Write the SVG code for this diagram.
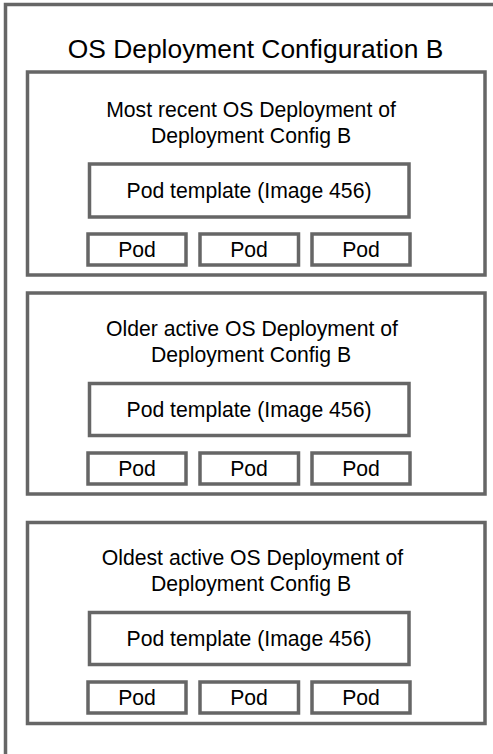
<svg xmlns="http://www.w3.org/2000/svg" width="493" height="754" viewBox="0 0 493 754">
<style>
.box{fill:#fff;stroke:#666;stroke-width:3.5}
.t{font-family:"Liberation Sans",Arial,sans-serif;fill:#000;text-anchor:middle}
.title{font-size:26.4px}
.lbl{font-size:21.2px}
</style>
<rect width="493" height="754" fill="#fff"/>
<g id="config">
<rect class="box" x="5.5" y="4.5" width="510" height="780"/>
<text class="t title" x="255.5" y="58">OS Deployment Configuration B</text>
</g>
<g id="deploy1">
<rect class="box" x="27.5" y="72" width="457.5" height="203"/>
<text class="t lbl" x="251" y="117">Most recent OS Deployment of</text>
<text class="t lbl" x="251" y="142.5">Deployment Config B</text>
</g>
<g id="template1"><rect class="box" x="89.5" y="164" width="319.5" height="53"/><text class="t lbl" x="249" y="198">Pod template (Image 456)</text></g>
<g id="pod1a"><rect class="box" x="88" y="234" width="98" height="31"/><text class="t lbl" x="137" y="257">Pod</text></g>
<g id="pod1b"><rect class="box" x="200" y="234" width="98.5" height="31"/><text class="t lbl" x="249" y="257">Pod</text></g>
<g id="pod1c"><rect class="box" x="312" y="234" width="98" height="31"/><text class="t lbl" x="361" y="257">Pod</text></g>
<g id="deploy2">
<rect class="box" x="27.5" y="293" width="457.5" height="201"/>
<text class="t lbl" x="252" y="336">Older active OS Deployment of</text>
<text class="t lbl" x="251" y="361.5">Deployment Config B</text>
</g>
<g id="template2"><rect class="box" x="89.5" y="383.5" width="319.5" height="52"/><text class="t lbl" x="249" y="417">Pod template (Image 456)</text></g>
<g id="pod2a"><rect class="box" x="88" y="453" width="98" height="31"/><text class="t lbl" x="137" y="476">Pod</text></g>
<g id="pod2b"><rect class="box" x="200" y="453" width="98.5" height="31"/><text class="t lbl" x="249" y="476">Pod</text></g>
<g id="pod2c"><rect class="box" x="312" y="453" width="98" height="31"/><text class="t lbl" x="361" y="476">Pod</text></g>
<g id="deploy3">
<rect class="box" x="27.5" y="522.5" width="457.5" height="201"/>
<text class="t lbl" x="252.5" y="565">Oldest active OS Deployment of</text>
<text class="t lbl" x="251" y="590.5">Deployment Config B</text>
</g>
<g id="template3"><rect class="box" x="89.5" y="612.5" width="319.5" height="52"/><text class="t lbl" x="249" y="646">Pod template (Image 456)</text></g>
<g id="pod3a"><rect class="box" x="88" y="682" width="98" height="31"/><text class="t lbl" x="137" y="705">Pod</text></g>
<g id="pod3b"><rect class="box" x="200" y="682" width="98.5" height="31"/><text class="t lbl" x="249" y="705">Pod</text></g>
<g id="pod3c"><rect class="box" x="312" y="682" width="98" height="31"/><text class="t lbl" x="361" y="705">Pod</text></g>
<g id="connectors"/>
</svg>
